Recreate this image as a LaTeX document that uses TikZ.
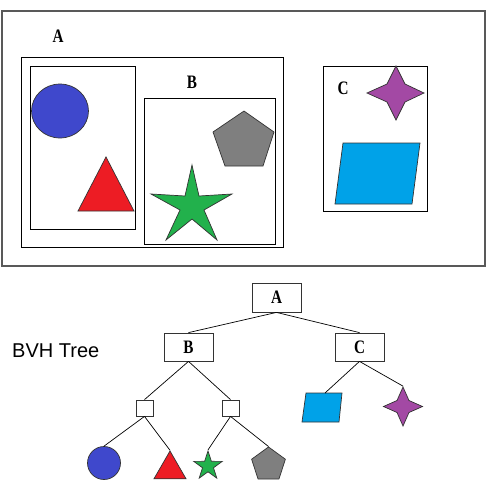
\documentclass[tikz,border=0pt]{standalone}
\usepackage{fontspec}
\setmainfont{Liberation Serif}
\newfontfamily\labelsans{Liberation Sans}
\usetikzlibrary{shapes.geometric}
\definecolor{cblue}{RGB}{63,72,204}
\definecolor{cred}{RGB}{237,28,36}
\definecolor{cgreen}{RGB}{34,177,76}
\definecolor{cgray}{RGB}{127,127,127}
\definecolor{cpurple}{RGB}{163,73,164}
\definecolor{ccyan}{RGB}{0,162,232}
\newcommand{\boxlabel}[1]{\scalebox{0.8}[1]{\fontsize{19}{19}\selectfont\bfseries #1}}
\tikzset{
  frame/.style={draw=black!65, line width=1.4pt},
  bvbox/.style={draw=black, line width=0.8pt},
  lbl/.style={inner sep=0pt},
  treebox/.style={draw=black!80, line width=0.8pt, minimum width=49pt, minimum height=29pt, inner sep=0pt},
  smallbox/.style={draw=black!80, line width=0.8pt, minimum width=17pt, minimum height=16pt, inner sep=0pt},
  edge/.style={draw=black, line width=0.7pt},
  shp/.style={draw=black!80, line width=0.7pt},
}
\begin{document}
\begin{tikzpicture}[x=1pt,y=-1pt]
\useasboundingbox (0,0) rectangle (501,499);
\fill[white] (0,0) rectangle (501,499);
% ---------- top scene ----------
\draw[frame] (2,11) rectangle (485,266);
\node[lbl] (labA) at (58,36) {\boxlabel{A}};
\draw[bvbox] (21,57) rectangle (283,247);
\draw[bvbox] (30,66) rectangle (135,229);
\draw[shp, fill=cblue] (60,111) ellipse [x radius=28.5, y radius=27];
\draw[shp, fill=cred] (78,211) -- (106,157) -- (134,211) -- cycle;
\node[lbl] (labB) at (192,82) {\boxlabel{B}};
\draw[bvbox] (144,98) rectangle (275,244);
\draw[shp, fill=cgray] (244,111) -- (274,132) -- (263,166) -- (225,166) -- (213,132) -- cycle;
\draw[shp, fill=cgreen] (192,165) -- (199,196) -- (232,194) -- (204,210) -- (217,240)
  -- (192,219) -- (166,240) -- (180,210) -- (151,194) -- (185,196) -- cycle;
\draw[bvbox] (323,66) rectangle (427,211);
\node[lbl] (labC) at (343,88) {\boxlabel{C}};
\draw[shp, fill=cpurple] (396,66) -- (405,84) -- (424,93) -- (405,102) -- (396,120)
  -- (387,102) -- (367,93) -- (387,84) -- cycle;
\draw[shp, fill=ccyan] (343,143) -- (420,143) -- (412,204) -- (335,204) -- cycle;
% ---------- tree ----------
\node[inner sep=0pt, anchor=base west, font=\labelsans\fontsize{20}{20}\selectfont] (title) at (12,357) {BVH Tree};
\node[treebox] (tA) at (276.5,297.5) {\boxlabel{A}};
\node[treebox, minimum height=28pt] (tB) at (188.5,347) {\boxlabel{B}};
\node[treebox, minimum height=28pt] (tC) at (359.5,347) {\boxlabel{C}};
\node[smallbox] (s1) at (144.5,408) {};
\node[smallbox] (s2) at (230.5,408) {};
\node[shp, fill=cblue, circle, minimum size=33pt, inner sep=0pt] (lc) at (104,463) {};
\node[shp, fill=cred, regular polygon, regular polygon sides=3, minimum size=37pt, inner sep=0pt] (lt) at (170,469.5) {};
\node[shp, fill=cgreen, star, star points=5, star point ratio=2.6, minimum size=30pt, inner sep=0pt] (ls) at (208,466) {};
\node[shp, fill=cgray, regular polygon, regular polygon sides=5, minimum size=35.5pt, inner sep=0pt] (lp) at (268.5,464.7) {};
\draw[shp, fill=ccyan] (306,393) -- (342,393) -- (339,422) -- (302,422) -- cycle;
\coordinate (lq) at (325,393);
\node[shp, fill=cpurple, star, star points=4, star point ratio=2.3, minimum size=39pt, inner sep=0pt] (lf) at (403,406.5) {};
\draw[edge] (tA.south) -- (tB.north);
\draw[edge] (tA.south) -- (tC.north);
\draw[edge] (tB.south) -- (s1.north);
\draw[edge] (tB.south) -- (s2.north);
\draw[edge] (tC.south) -- (lq);
\draw[edge] (tC.south) -- (lf.outer point 1);
\draw[edge] (s1.south) -- (lc.north);
\draw[edge] (s1.south) -- (lt.corner 1);
\draw[edge] (s2.south) -- (ls.outer point 1);
\draw[edge] (s2.south) -- (lp.corner 1);
\end{tikzpicture}
\end{document}
